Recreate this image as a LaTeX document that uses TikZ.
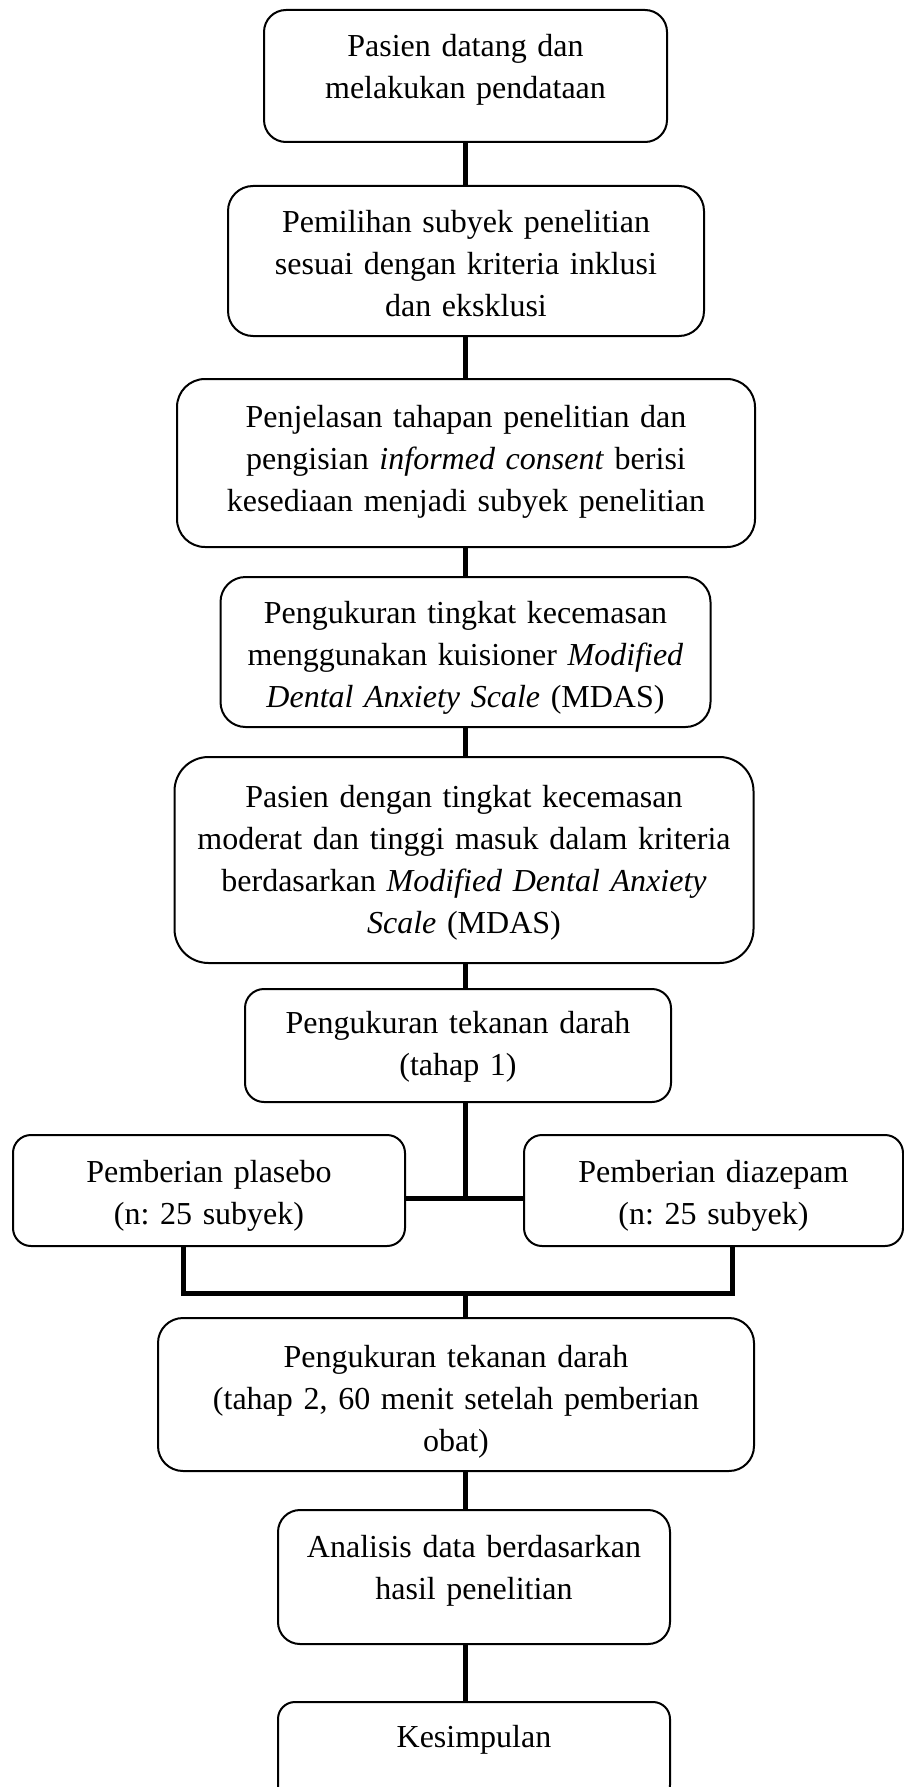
\documentclass[tikz,border=0pt]{standalone}
\usepackage{fontspec}
\setmainfont{Liberation Serif}
\usetikzlibrary{positioning}
\frenchspacing

\begin{document}
\begin{tikzpicture}[
node distance=30pt,
every node/.style={font=\fontsize{32pt}{42pt}\selectfont},
stage/.style={draw, line width=2pt, align=center, inner sep=0pt, outer sep=0pt, text height=47pt},
conn/.style={line width=5pt, line join=miter}
]
\useasboundingbox (0,0) rectangle (904pt,-1787pt);

% Screening steps
\node[stage, anchor=north, text width=403pt, text depth=85pt, rounded corners=22pt] (B1) at (465.5pt,-10pt) {Pasien datang dan\\melakukan pendataan};
\node[stage, below=44pt of B1, xshift=0.5pt, text width=476pt, text depth=103pt, rounded corners=25pt] (B2) {Pemilihan subyek penelitian\\sesuai dengan kriteria inklusi\\dan eksklusi};
\node[stage, below=43pt of B2, text width=578pt, text height=48pt, text depth=120pt, rounded corners=28pt] (B3) {Penjelasan tahapan penelitian dan\\pengisian \textit{informed consent} berisi\\kesediaan menjadi subyek penelitian};
\draw[conn] (B1.south -| B1) -- (B2.north -| B1); \draw[conn] (B2.south -| B1) -- (B3.north -| B1);

% Anxiety measurement
\node[stage, below=of B3, xshift=-0.5pt, text width=490pt, text height=46pt, text depth=104pt, rounded corners=25pt] (B4) {Pengukuran tingkat kecemasan\\menggunakan kuisioner \textit{Modified}\\\textit{Dental Anxiety Scale} (MDAS)};
\node[stage, below=of B4, xshift=-1.5pt, text width=579pt, text height=50pt, text depth=156pt, rounded corners=34pt] (B5) {Pasien dengan tingkat kecemasan\\moderat dan tinggi masuk dalam kriteria\\berdasarkan \textit{Modified Dental Anxiety}\\\textit{Scale} (MDAS)};
\node[stage, below=26pt of B5, xshift=-6pt, text width=426pt, text height=44pt, text depth=69pt, rounded corners=19pt] (B6) {Pengukuran tekanan darah\\(tahap 1)};
\draw[conn] (B3.south -| B1) -- (B4.north -| B1); \draw[conn] (B4.south -| B1) -- (B5.north -| B1); \draw[conn] (B5.south -| B1) -- (B6.north -| B1);

% Two groups
\node[stage, anchor=north, text width=392pt, text depth=64pt, rounded corners=18pt] (Plasebo) at (209pt,-1135pt) {Pemberian plasebo\\(n: 25 subyek)};
\node[stage, right=119pt of Plasebo, text width=379pt, text depth=64pt, rounded corners=18pt] (Diazepam) {Pemberian diazepam\\(n: 25 subyek)};
\coordinate (split) at (465pt,-1198pt);
\draw[conn] (B6.south -| split) -- (split); \draw[conn] (Plasebo.east |- split) -- (Diazepam.west |- split);

% Second measurement and end
\node[stage, anchor=north, text width=596pt, text height=49pt, text depth=104pt, rounded corners=25pt] (B9) at (456pt,-1318pt) {Pengukuran tekanan darah\\(tahap 2, 60 menit setelah pemberian\\obat)};
\node[stage, below=39pt of B9, xshift=18pt, text width=392pt, text depth=87pt, rounded corners=22pt] (B10) {Analisis data berdasarkan\\hasil penelitian};
\node[stage, below=58pt of B10, text width=392pt, text height=45pt, text depth=55pt, rounded corners=17pt] (B11) {Kesimpulan};
\coordinate (mergeL) at (183pt,-1293pt);
\coordinate (mergeR) at (732pt,-1293pt);
\coordinate (merge) at (465pt,-1293pt);
\draw[conn] (Plasebo.south -| mergeL) -- (mergeL) -- (mergeR) -- (Diazepam.south -| mergeR);
\draw[conn] (merge) -- (B9.north -| merge);
\draw[conn] (B9.south -| B1) -- (B10.north -| B1); \draw[conn] (B10.south -| B1) -- (B11.north -| B1);
\end{tikzpicture}
\end{document}
